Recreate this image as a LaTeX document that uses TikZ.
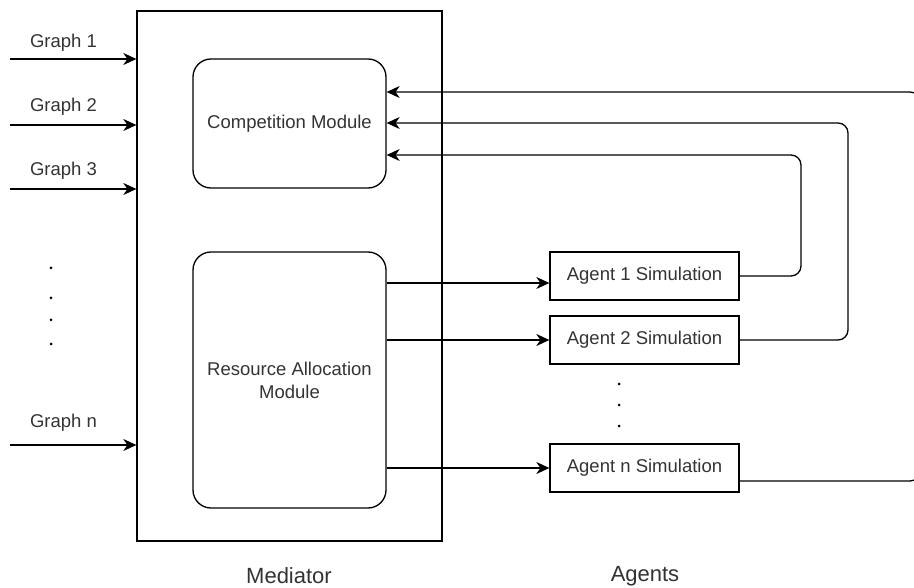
\documentclass[tikz,border=0pt]{standalone}
\usepackage{fontspec}
\setmainfont{Liberation Sans}
\usetikzlibrary{arrows.meta}
\definecolor{txt}{RGB}{51,51,51}
\tikzset{
  box/.style={draw, line width=1.3pt, inner sep=0pt, text=txt, font=\fontsize{18.5}{23}\selectfont, align=center},
  rbox/.style={box, rounded corners=18pt},
  conn/.style={line width=1.3pt},
  arr/.style={conn, -{Stealth[length=13pt, width=12pt, inset=4pt]}},
  lbl/.style={text=txt, font=\fontsize{18.5}{23}\selectfont, inner sep=0pt},
  biglbl/.style={text=txt, font=\fontsize{22}{26}\selectfont, inner sep=0pt},
  dot/.style={fill=black, draw=none, circle, minimum size=3pt, inner sep=0pt}
}
\begin{document}
\begin{tikzpicture}[x=1pt, y=-1pt]
\useasboundingbox (0,0) rectangle (914,588);
% containers
\node[box, minimum width=305pt, minimum height=530pt] (med) at (289.5,276) {};
\node[rbox, minimum width=193pt, minimum height=129pt] (comp) at (289.5,123.5) {Competition Module};
\node[rbox, minimum width=193pt, minimum height=256pt] (res) at (289.5,380) {Resource Allocation\\Module};
\node[box, minimum width=189pt, minimum height=48pt] (a1) at (644.5,276) {Agent 1 Simulation};
\node[box, minimum width=189pt, minimum height=48pt] (a2) at (644.5,340) {Agent 2 Simulation};
\node[box, minimum width=189pt, minimum height=48pt] (an) at (644.5,468) {Agent n Simulation};
% graph inputs
\node[lbl] (l1) at (63.5,43) {Graph 1};
\node[lbl] (l2) at (63.5,107) {Graph 2};
\node[lbl] (l3) at (63.5,171) {Graph 3};
\node[lbl] (ln) at (63.5,423) {Graph n};
\coordinate (g1) at (10,59);
\coordinate (g2) at (10,125);
\coordinate (g3) at (10,189);
\coordinate (gn) at (10,445);
\draw[arr] (g1) -- (med.west |- g1);
\draw[arr] (g2) -- (med.west |- g2);
\draw[arr] (g3) -- (med.west |- g3);
\draw[arr] (gn) -- (med.west |- gn);
\node[dot] (d1) at (51,268) {};
\node[dot] (d2) at (51,298) {};
\node[dot] (d3) at (51,320) {};
\node[dot] (d4) at (51,344) {};
% resource -> agents
\coordinate (e1) at ([yshift=-7pt]a1.west);
\draw[arr] (res.east |- e1) -- (e1);
\draw[arr] (res.east |- a2.west) -- (a2.west);
\draw[arr] (res.east |- an.west) -- (an.west);
% agent dots
\node[dot] (ad1) at (619,384) {};
\node[dot] (ad2) at (619,405) {};
\node[dot] (ad3) at (619,426) {};
% feedback
\coordinate (r1) at (801,155);
\coordinate (r2) at (848,123);
\coordinate (rn) at (920,92);
\draw[arr, rounded corners=10pt] (a1.east) -| (r1) -- (comp.east |- r1);
\draw[arr, rounded corners=10pt] (a2.east) -| (r2) -- (comp.east |- r2);
\draw[arr, rounded corners=10pt] ([yshift=-13pt]an.east) -| (rn) -- (comp.east |- rn);
% bottom labels
\node[biglbl] (mlab) at (289,576) {Mediator};
\node[biglbl] (alab) at (645,576) {Agents};
\end{tikzpicture}
\end{document}
